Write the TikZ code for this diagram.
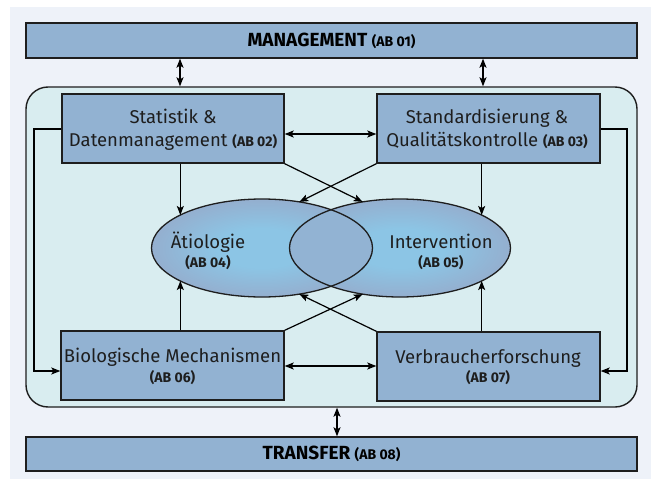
\documentclass[tikz,border=0pt]{standalone}
\usepackage{fontspec}
\setmainfont{Fira Sans}
\usetikzlibrary{arrows.meta,shapes.geometric}
\definecolor{pagebg}{HTML}{EEF2F9}
\definecolor{framebg}{HTML}{D9EDF0}
\definecolor{boxfill}{HTML}{92B2D2}
\definecolor{ellin}{HTML}{8CC5E5}
\definecolor{ellout}{HTML}{94AFCF}
\definecolor{lens}{HTML}{92B3D3}
\definecolor{ink}{HTML}{1E1E1E}
\newcommand\abtag[1]{{\bfseries\fontsize{14}{16}\selectfont #1}}
\pgfdeclareradialshading{blobshade}{\pgfpoint{0bp}{0bp}}{%
  color(0bp)=(ellin); color(10bp)=(ellin); color(25bp)=(ellout); color(50bp)=(ellout)}
\begin{document}
\begin{tikzpicture}[x=1pt,y=-1pt,
  bar/.style={draw=ink, line width=1.4pt, fill=boxfill, inner sep=0pt,
    minimum width=611pt, minimum height=35pt, font=\bfseries\fontsize{19}{21}\selectfont},
  unit/.style={draw=ink, line width=1.4pt, fill=boxfill, inner sep=0pt,
    minimum width=223pt, minimum height=69pt},
  blob/.style={ellipse, inner sep=0pt, outer sep=0pt, minimum width=221pt,
    minimum height=98pt, shading=blobshade},
  txt/.style={anchor=base, inner sep=0pt, text=ink, font=\fontsize{18.5}{20}\selectfont},
  conn/.style={line width=1.2pt, draw=black},
  tip/.tip={Stealth[length=9pt,width=7pt,inset=2pt]},
  arr/.style={conn, -tip},
  dbl/.style={conn, tip-tip}
]
\useasboundingbox (0,0) rectangle (651,479);
\fill[white] (0,0) rectangle (651,479);
\fill[pagebg] (10,7) rectangle (651,479);

% outer bars
\node[bar] (mgmt) at (331.5,40.5) {MANAGEMENT \abtag{(AB 01)}};
\node[bar, minimum height=34pt] (transfer) at (331.5,454) {TRANSFER \abtag{(AB 08)}};

% rounded frame around the work packages
\node[draw=ink, line width=1.4pt, fill=framebg, rounded corners=22pt,
  minimum width=611pt, minimum height=320pt, inner sep=0pt] (frame) at (331.5,247) {};

% work package boxes
\node[unit, minimum width=222pt] (ab02) at (173,128.5) {};
\node[unit] (ab03) at (488.5,128.5) {};
\node[unit] (ab06) at (172.5,365.5) {};
\node[unit] (ab07) at (488.5,366.5) {};

% overlapping ellipses
\node[blob] (e4) at (262,248) {};
\node[blob] (e5) at (400,248) {};
\begin{scope}
  \clip (e4.center) ellipse [x radius=110.5, y radius=49];
  \fill[lens] (e5.center) ellipse [x radius=110.5, y radius=49];
\end{scope}
\draw[draw=ink, line width=1.3pt] (e4.center) ellipse [x radius=110.5, y radius=49];
\draw[draw=ink, line width=1.3pt] (e5.center) ellipse [x radius=110.5, y radius=49];

% helper positions
\coordinate (cL) at (180,0);
\coordinate (cR) at (483,0);
\coordinate (cT) at (337,0);
\coordinate (yTop) at (0,134);
\coordinate (yBot) at (0,366);
\coordinate (ySide) at (0,129);
\coordinate (ySideEnd) at (0,371);
\coordinate (xL) at (34,0);
\coordinate (xR) at (627,0);

% connectors
\draw[dbl] (mgmt.south -| cL) -- (frame.north -| cL);
\draw[dbl] (mgmt.south -| cR) -- (frame.north -| cR);
\draw[dbl] (frame.south -| cT) -- (transfer.north -| cT);
\draw[dbl] (ab02.east |- yTop) -- (ab03.west |- yTop);
\draw[dbl] (ab06.east |- yBot) -- (ab07.west |- yBot);
\draw[arr] (ab02.west |- ySide) -| (xL |- ySideEnd) -- (ab06.west |- ySideEnd);
\draw[arr] (ab03.east |- ySide) -| (xR |- ySideEnd) -- (ab07.east |- ySideEnd);
\draw[arr] (ab02.south -| e4.158) -- (e4.158);
\draw[arr] (ab03.south -| e5.22) -- (e5.22);
\draw[arr] (ab06.north -| e4.-158) -- (e4.-158);
\draw[arr] (ab07.north -| e5.-22) -- (e5.-22);
\draw[arr] (ab02.south east) -- (e5.129);
\draw[arr] (ab03.south west) -- (e4.51);
\draw[arr] (ab06.north east) -- (e5.-129);
\draw[arr] (ab07.north west) -- (e4.-51);

% labels
\node[txt] (l02a) at (173,123) {Statistik \&};
\node[txt] (l02b) at (173,146) {Datenmanagement \abtag{(AB 02)}};
\node[txt] (l03a) at (487,123) {Standardisierung \&};
\node[txt] (l03b) at (487,146) {Qualitätskontrolle \abtag{(AB 03)}};
\node[txt] (l04a) at (208,248) {Ätiologie};
\node[txt] (l04b) at (208,267) {\abtag{(AB 04)}};
\node[txt] (l05a) at (441,248) {Intervention};
\node[txt] (l05b) at (441,267) {\abtag{(AB 05)}};
\node[txt] (l06a) at (172.5,362) {Biologische Mechanismen};
\node[txt] (l06b) at (172.5,382) {\abtag{(AB 06)}};
\node[txt] (l07a) at (488,363) {Verbraucherforschung};
\node[txt] (l07b) at (488,382) {\abtag{(AB 07)}};
\end{tikzpicture}
\end{document}
